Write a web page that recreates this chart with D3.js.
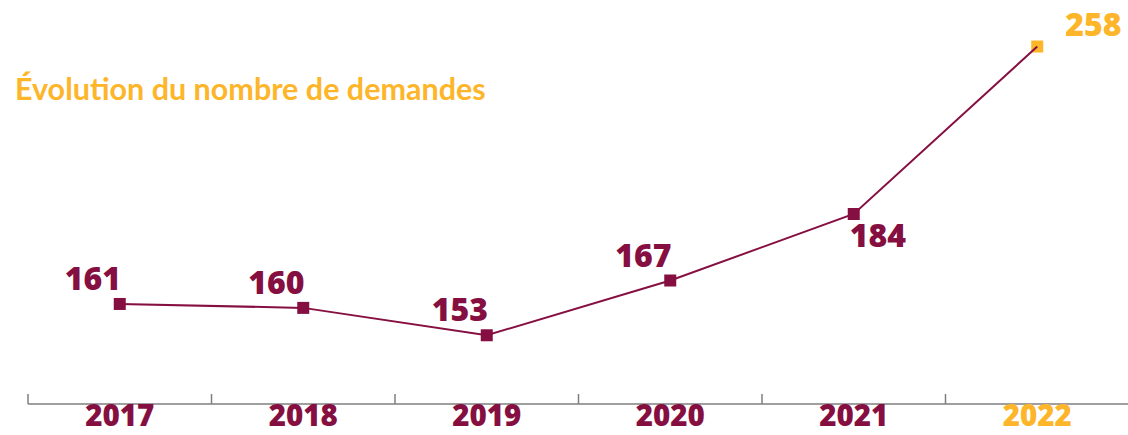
<!DOCTYPE html>
<html><head><meta charset="utf-8">
<script src="https://cdn.jsdelivr.net/npm/d3@7"></script>
<style>
html,body{margin:0;padding:0;background:#fff;}
svg{display:block;}
</style></head>
<body>
<svg id="chart" width="1128" height="435"></svg>
<script>
const years = ["2017","2018","2019","2020","2021","2022"];
const demandes = [161, 160, 153, 167, 184, 258];
const labelPlacement = ["above","above","above","above","below","right"];
const highlight = [false,false,false,false,false,true];
const title = "Évolution du nombre de demandes";

const W = 1128, H = 435;
const maroon = "#860F41", orange = "#FDB52A", axisGrey = "#7f7f7f";
const svg = d3.select("#chart");

const x = d3.scaleBand().domain(years).range([28, 1129]).padding(0);
const cx = d => x(d) + x.bandwidth()/2;
// compressed upper segment
const y = d3.scaleLinear().domain([150, 184, 260]).range([347, 214, 42]);

// axis
const axis = d3.axisBottom(x).tickSize(0).tickFormat("");
const gAxis = svg.append("g").attr("transform","translate(0,404)").call(axis);
gAxis.select(".domain").attr("stroke", axisGrey).attr("stroke-width",1.5).attr("d","M28,0H1128");
const tickEdges = years.map(d => x(d));
gAxis.selectAll("line.edge").data(tickEdges).join("line").attr("class","edge")
  .attr("x1", d=>d).attr("x2", d=>d).attr("y1",0).attr("y2",-10)
  .attr("stroke", axisGrey).attr("stroke-width",1.5);

// year labels
svg.append("g").selectAll("text").data(years).join("text")
  .attr("x", d => cx(d)).attr("y", 426)
  .attr("text-anchor","middle")
  .attr("font-family","'Open Sans', sans-serif").attr("font-weight",800).attr("font-size",29.5)
  .attr("fill", (d,i) => highlight[i] ? orange : maroon)
  .text(d => d);

// title
svg.append("text").attr("x", 15).attr("y", 100)
  .attr("font-family","Lato, 'Open Sans', sans-serif").attr("font-weight",700).attr("font-size",30.5)
  .attr("fill", orange).text(title);

const pts = years.map((d,i) => ({year:d, v:demandes[i], i}));

// markers
const ms = 12;
svg.append("g").selectAll("rect").data(pts).join("rect")
  .attr("x", d => cx(d.year) - ms/2).attr("y", d => y(d.v) - ms/2)
  .attr("width", ms).attr("height", ms)
  .attr("fill", d => highlight[d.i] ? orange : maroon);

// line
const line = d3.line().x(d => cx(d.year)).y(d => y(d.v));
svg.append("path").datum(pts).attr("d", line)
  .attr("fill","none").attr("stroke", maroon).attr("stroke-width",2);

// value labels
svg.append("g").selectAll("text").data(pts).join("text")
  .attr("x", d => {
    const p = labelPlacement[d.i], X = cx(d.year);
    return p === "above" ? X - 27 : p === "below" ? X - 4 : X + 28;
  })
  .attr("y", d => {
    const p = labelPlacement[d.i], Y = y(d.v);
    return p === "above" ? Y - 14 : p === "below" ? Y + 33 : Y - 11;
  })
  .attr("text-anchor", d => labelPlacement[d.i] === "above" ? "middle" : "start")
  .attr("font-family","'Open Sans', sans-serif").attr("font-weight",800).attr("font-size",32)
  .attr("fill", d => highlight[d.i] ? orange : maroon)
  .text(d => d.v);
</script>
</body></html>
